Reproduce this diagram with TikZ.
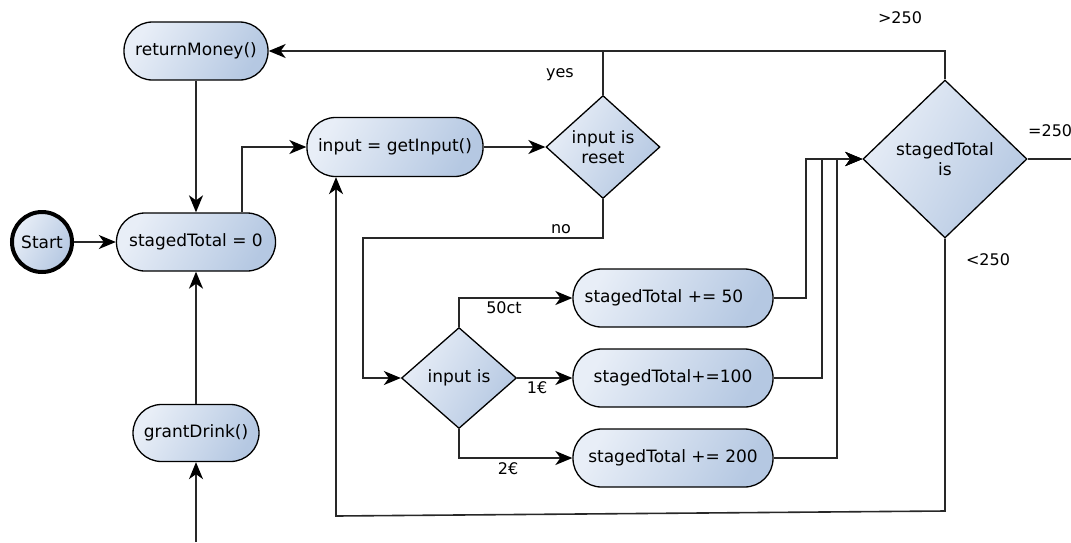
\documentclass[tikz,border=0pt]{standalone}
\usepackage{fontspec}
\setmainfont{DejaVu Sans}
\usetikzlibrary{shapes.geometric,arrows.meta}
\definecolor{fillA}{RGB}{232,238,247}
\definecolor{fillB}{RGB}{181,200,226}
\definecolor{wire}{RGB}{40,40,40}
\tikzset{
  base/.style={draw=black, line width=1.3pt, left color=fillA, right color=fillB,
               shading angle=60, font=\fontsize{17}{20}\selectfont, inner sep=0pt},
  proc/.style={base, rectangle, rounded corners=28.5pt, minimum height=58pt},
  decide/.style={base, diamond, align=center},
  startnode/.style={base, circle, line width=4pt, minimum size=60pt},
  conn/.style={draw=wire, line width=1.6pt,
               -{Stealth[length=17pt, width=14pt, inset=5pt, color=black]}},
  wire/.style={draw=wire, line width=1.6pt},
  lbl/.style={font=\fontsize{16}{19}\selectfont, inner sep=0pt}
}
\begin{document}
\begin{tikzpicture}[x=1pt, y=-1pt]
\useasboundingbox (0,0) rectangle (1071,542);

% nodes
\node[startnode] (start) at (42,242) {Start};
\node[proc, minimum width=159pt] (zero) at (196,242) {stagedTotal = 0};
\node[proc, minimum width=144pt] (rm) at (196,51) {returnMoney()};
\node[proc, minimum width=126pt, minimum height=57pt] (grant) at (196,433) {grantDrink()};
\node[proc, minimum width=176pt, minimum height=59pt] (input) at (395,147) {input = getInput()};
\node[decide, minimum width=114pt, minimum height=103pt] (reset) at (603,147) {input is\\reset};
\node[decide, minimum width=115pt, minimum height=101pt] (inis) at (459,378) {input is};
\node[proc, minimum width=200pt] (p50) at (673,298) {stagedTotal += 50\hspace*{18pt}};
\node[proc, minimum width=200pt] (p100) at (673,378) {stagedTotal+=100};
\node[proc, minimum width=200pt] (p200) at (673,458) {stagedTotal += 200};
\node[decide, minimum width=164pt, minimum height=158pt] (check) at (945,159) {stagedTotal\\is};

% branch labels
\node[lbl] (lyes) at (560,75) {yes};
\node[lbl] (lno) at (561,229) {no};
\node[lbl] (l50) at (504,308) {50ct};
\node[lbl] (l1) at (537,388) {1€};
\node[lbl] (l2) at (508,469) {2€};
\node[lbl] (lgt) at (900,18) {>250};
\node[lbl, anchor=west] (leq) at (1028,131) {=250};
\node[lbl] (llt) at (988,260) {<250};

% helper points
\coordinate (j1) at (242,147);
\coordinate (nj) at (363,238);
\coordinate (c50) at (806,159);
\coordinate (c100) at (822,159);
\coordinate (c200) at (837,159);
\coordinate (eqout) at (1071,159);
\coordinate (lb1) at (945,511);
\coordinate (lb2) at (336,516);
\coordinate (gin) at (196,542);

% connectors
\draw[conn] (start) -- (zero);
\draw[conn] (rm) -- (zero);
\draw[conn] (grant) -- (zero);
\draw[conn] (gin) -- (grant);
\draw[conn] (zero.north -| j1) -- (j1) -- (input.west);
\draw[conn] (input) -- (reset);
\draw[conn] (reset.north) |- (rm.east);
\draw[wire] (check.north) |- (reset.north |- rm.east);
\draw[conn] (reset.south) |- (nj) |- (inis.west);
\draw[conn] (inis.north) |- (p50.west);
\draw[conn] (inis.east) -- (p100.west);
\draw[conn] (inis.south) |- (p200.west);
\draw[conn] (p50.east) -| (c50) -- (check.west);
\draw[conn] (p100.east) -| (c100) -- (check.west);
\draw[conn] (p200.east) -| (c200) -- (check.west);
\draw[wire] (check.east) -- (eqout);
\draw[conn] (check.south) -- (lb1) -- (lb2) -- (input.south -| lb2);
\end{tikzpicture}
\end{document}
